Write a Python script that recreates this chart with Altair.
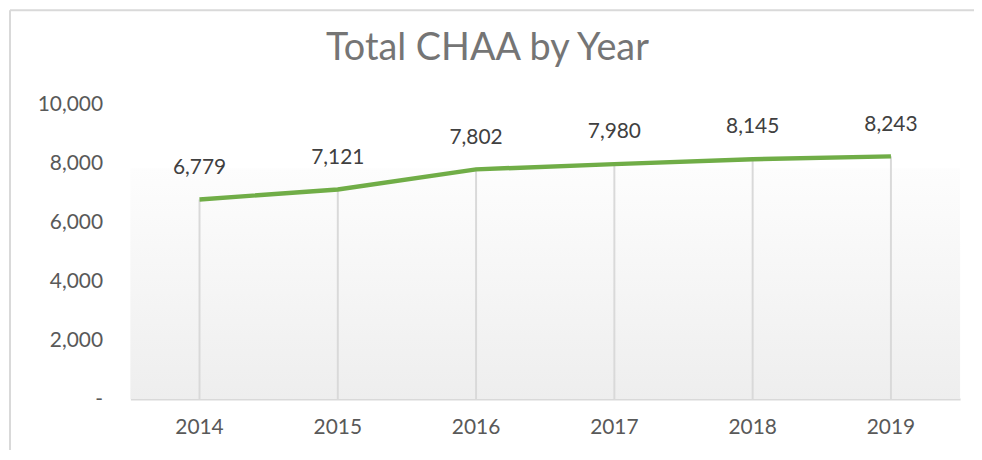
import altair as alt
import pandas as pd

years = ["2014", "2015", "2016", "2017", "2018", "2019"]
totals = [6779, 7121, 7802, 7980, 8145, 8243]
title_text = "Total CHAA by Year"

df = pd.DataFrame({"year": years, "total": totals})

W, H = 834, 296
FONT = "Lato"

base = alt.Chart(df)

x_enc = alt.X(
    "year:N",
    sort=years,
    scale=alt.Scale(paddingInner=0, paddingOuter=0),
    axis=alt.Axis(
        title=None, ticks=False, domainColor="#d9d9d9", domainWidth=2,
        labelAngle=0, labelFontSize=21, labelColor="#595959", labelFont=FONT,
        labelPadding=18, grid=False,
    ),
)
y_enc = alt.Y(
    "total:Q",
    scale=alt.Scale(domain=[0, 10000], nice=False),
    axis=alt.Axis(
        title=None, ticks=False, domain=False, grid=False, values=[0, 2000, 4000, 6000, 8000, 10000],
        labelExpr="datum.value == 0 ? '-\u2007' : format(datum.value, ',')",
        labelFontSize=21, labelColor="#595959", labelFont=FONT, labelPadding=28,
    ),
)

one = "datum.year == '2014'"

border_top = base.mark_rule(color="#d9d9d9", strokeWidth=2, clip=False).encode(
    x=alt.value(-121), x2=alt.value(W + 20), y=alt.value(-95)
).transform_filter(one)

border_left = base.mark_rule(color="#d9d9d9", strokeWidth=2, clip=False).encode(
    x=alt.value(-121), y=alt.value(-95), y2=alt.value(H + 60)
).transform_filter(one)

bg = base.mark_rect(
    fill=alt.Gradient(
        gradient="linear", x1=0, y1=0, x2=0, y2=1,
        stops=[alt.GradientStop(color="#fdfdfd", offset=0), alt.GradientStop(color="#eeeeee", offset=1)],
    )
).encode(
    x=alt.value(0), x2=alt.value(W), y=alt.value(64), y2=alt.value(H)
).transform_filter(one)

title = base.mark_text(
    text=title_text, fontSize=38, font=FONT, color="#757575", baseline="middle", align="center"
).encode(x=alt.value(359), y=alt.value(-56)).transform_filter(one)

drops = base.mark_rule(color="#d9d9d9", strokeWidth=2).encode(
    x=x_enc, y=y_enc, y2=alt.datum(0)
)

line = base.mark_line(color="#70ad47", strokeWidth=4.5).encode(x=x_enc, y=y_enc)

labels = base.mark_text(
    dy=-32, fontSize=21, color="#404040", font=FONT, baseline="middle"
).encode(x=x_enc, y=y_enc, text=alt.Text("total:Q", format=","))

chart = alt.layer(border_top, border_left, bg, drops, line, labels, title).properties(
    width=W, height=H,
    autosize=alt.AutoSizeParams(type="none"),
    padding={"left": 123, "top": 96, "right": 14, "bottom": 50},
).configure_view(stroke=None)

chart.save("out.html", embed_options={"renderer": "svg", "actions": False})
